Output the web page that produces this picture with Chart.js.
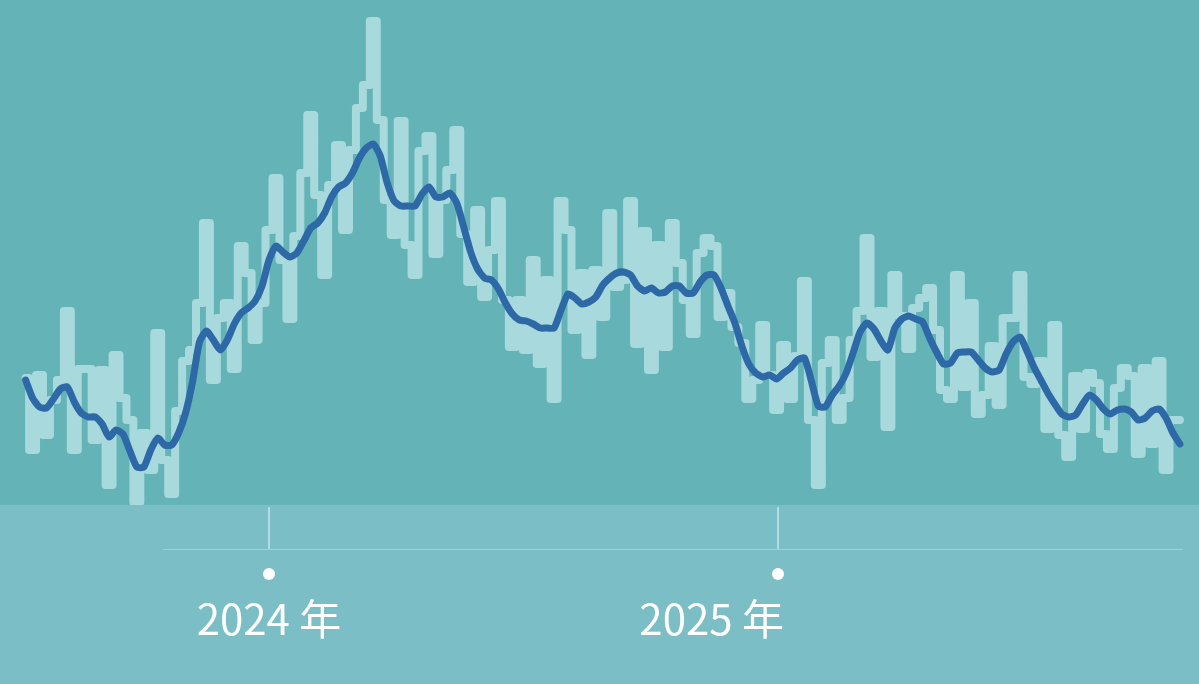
<!DOCTYPE html>
<html>
<head>
<meta charset="utf-8">
<script src="https://cdn.jsdelivr.net/npm/chart.js@4/dist/chart.umd.min.js"></script>
<style>
  html, body { margin: 0; padding: 0; background: #7bbec5; }
  #wrap { width: 1199px; height: 684px; position: relative; }
</style>
</head>
<body>
<div id="wrap"><canvas id="myChart"></canvas></div>
<script>
// jours depuis le 1er janvier 2024, un point tous les 5 jours
const startDay = -175;
const stepDays = 5;

// série brute (clair) et moyenne glissante (foncé) (0 = haut)
const rawValues = [
  378,450,375,435,400,380,311,450,369,369,
  440,370,485,355,398,420,502,433,470,333,
  460,494,411,361,350,303,223,380,318,303,
  369,246,273,340,303,230,178,260,319,236,
  173,115,195,275,185,145,230,150,108,85,
  21,120,200,235,121,245,275,151,136,254,
  200,170,130,234,282,210,297,250,201,300,
  347,300,350,260,364,280,399,201,230,330,
  273,355,270,317,213,287,280,201,344,231,
  370,245,347,223,263,300,334,253,238,246,
  317,293,327,343,399,380,325,375,410,345,
  399,356,281,420,485,363,340,420,398,340,
  311,238,357,311,427,275,316,349,308,298,
  288,330,390,399,275,387,303,414,395,346,
  405,318,318,275,377,384,361,429,325,435,
  457,376,429,373,383,434,449,388,368,376,
  454,368,444,361,470,420,420
];
const avgValues = [
  380,398,407,408,399,389,387,402,413,417,
  417,424,437,430,434,451,467,467,450,438,
  445,445,433,413,382,342,331,340,350,340,
  324,313,308,301,286,260,246,252,257,253,
  241,228,223,213,197,187,183,173,158,148,
  144,156,183,201,206,206,206,194,187,197,
  197,193,203,227,252,269,278,280,289,303,
  314,320,321,324,328,328,328,310,294,298,
  304,302,297,285,278,273,272,275,286,291,
  288,293,292,286,286,293,293,282,275,275,
  288,306,323,346,364,373,377,375,379,373,
  368,360,358,381,406,407,395,386,373,353,
  332,323,329,341,350,328,319,316,319,322,
  338,352,364,363,353,352,352,360,368,372,
  370,354,342,337,351,367,380,393,404,414,
  417,415,404,395,400,409,414,410,409,412,
  420,418,411,409,418,433,444
];

// repères de l'axe X
const tickDays = [0, 366];
const tickLabels = ['2024 年', '2025 年'];
const tickAlign = ['center', 'right'];

function toPoints(values) {
  return values.map((v, i) => ({ x: startDay + i * stepDays, y: v }));
}

// fonds + axe maison
const decor = {
  id: 'decor',
  beforeDraw(chart) {
    const { ctx, chartArea, width, height } = chart;
    ctx.save();
    ctx.fillStyle = '#64b3b7';
    ctx.fillRect(0, 0, width, chartArea.bottom);
    ctx.fillStyle = '#7bbec5';
    ctx.fillRect(0, chartArea.bottom, width, height - chartArea.bottom);
    ctx.restore();
  },
  afterDraw(chart) {
    const { ctx, chartArea } = chart;
    const xs = chart.scales.x;
    const axisY = chartArea.bottom + 44;
    ctx.save();
    ctx.strokeStyle = 'rgba(190,228,232,0.55)';
    ctx.lineWidth = 1;
    ctx.beginPath();
    ctx.moveTo(163, axisY + 0.5);
    ctx.lineTo(1183, axisY + 0.5);
    ctx.stroke();
    tickDays.forEach((d, i) => {
      const px = Math.round(xs.getPixelForValue(d));
      ctx.strokeStyle = 'rgba(190,228,232,0.8)';
      ctx.lineWidth = 2;
      ctx.beginPath();
      ctx.moveTo(px, chartArea.bottom + 2);
      ctx.lineTo(px, axisY);
      ctx.stroke();
      ctx.fillStyle = '#ffffff';
      ctx.beginPath();
      ctx.arc(px, axisY + 25, 6, 0, Math.PI * 2);
      ctx.fill();
      ctx.font = '42px "Noto Sans CJK JP", "Noto Sans", sans-serif';
      ctx.textAlign = tickAlign[i];
      ctx.textBaseline = 'middle';
      ctx.fillText(tickLabels[i], tickAlign[i] === 'right' ? px + 6 : px, axisY + 70);
    });
    ctx.restore();
  }
};

const ctx = document.getElementById('myChart').getContext('2d');
const myChart = new Chart(ctx, {
  type: 'line',
  data: {
    datasets: [
      {
        label: 'moyenne',
        data: toPoints(avgValues),
        borderColor: '#2e69a7',
        borderWidth: 7,
        pointRadius: 0,
        tension: 0.2,
        borderJoinStyle: 'round',
        borderCapStyle: 'round',
        order: 0,
      },
      {
        label: 'brut',
        data: toPoints(rawValues),
        borderColor: '#a8d9dc',
        borderWidth: 8,
        pointRadius: 0,
        stepped: 'middle',
        borderJoinStyle: 'round',
        borderCapStyle: 'round',
        order: 1,
      },
    ],
  },
  options: {
    responsive: true,
    maintainAspectRatio: false,
    animation: false,
    layout: { padding: { top: 0, left: 0, right: 0, bottom: 179 } },
    plugins: { legend: { display: false }, tooltip: { enabled: false } },
    scales: {
      x: { type: 'linear', min: -193.43, max: 668.72, display: false },
      y: { min: 0, max: 505, reverse: true, display: false },
    },
  },
  plugins: [decor],
});
</script>
</body>
</html>
